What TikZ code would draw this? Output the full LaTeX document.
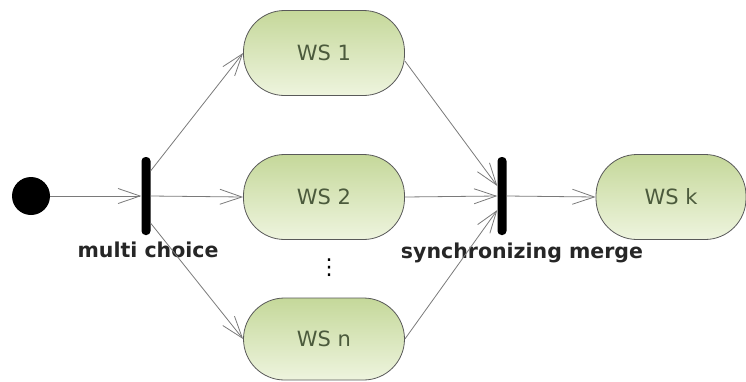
\documentclass[tikz,border=0pt]{standalone}
\usepackage{fontspec}
\setmainfont{DejaVu Sans}
\usepackage{tikz}
\usetikzlibrary{arrows.meta}

\definecolor{wsgreen}{HTML}{C5D89A}
\definecolor{wslight}{HTML}{EEF4DE}
\definecolor{wstext}{HTML}{4B5A3C}
\definecolor{flowgray}{HTML}{7A7A7A}

\begin{document}
\begin{tikzpicture}[x=1pt, y=-1pt,
    ws/.style={draw=black!65, line width=0.8pt, rounded corners=41pt,
      top color=wsgreen, bottom color=wslight, text=wstext,
      minimum width=161pt, minimum height=85pt,
      font=\fontsize{21}{24}\selectfont},
    bar/.style={fill=black, rounded corners=4pt, inner sep=0pt,
      minimum width=9pt, minimum height=78pt},
    lbl/.style={font=\fontsize{20.5}{24}\selectfont\bfseries, text=black!85},
    flow/.style={draw=flowgray, line width=0.8pt,
      -{Straight Barb[length=22pt, width=15pt, line width=0.8pt]}}]
    \useasboundingbox (0,0) rectangle (746,381);
    \node[circle, fill=black, minimum size=38pt, inner sep=0pt] (s) at (31,196) {};
    \node[bar] (f) at (146,196) {};
    \node[bar] (j) at (502,196) {};
    \node[ws] (w1) at (324,53) {WS 1};
    \node[ws] (w2) at (324,197) {WS 2};
    \node[ws, minimum height=82pt] (wn) at (324,339) {WS n};
    \node[ws, minimum width=150pt] (wk) at (671,197) {WS k};
    \node[font=\fontsize{22}{22}\selectfont] (d) at (329,268) {⋮};
    \node[lbl] (l1) at (148,250) {multi choice};
    \node[lbl] (l2) at (522,253) {synchronizing merge};
    \draw[flow] (s) to (f.west);
    \draw[flow] ([yshift=-14pt]f.north east) to (w1.west);
    \draw[flow] (f.east) to (w2.west);
    \draw[flow] ([yshift=12pt]f.south east) to (wn.west);
    \draw[flow] ([yshift=-8pt]w1.east) to ([yshift=10pt]j.west);
    \draw[flow] (w2.east) to (j.west);
    \draw[flow] (wn.east) to ([yshift=-14pt]j.west);
    \draw[flow] (j.east) to (wk.west);
  \end{tikzpicture}
\end{document}
